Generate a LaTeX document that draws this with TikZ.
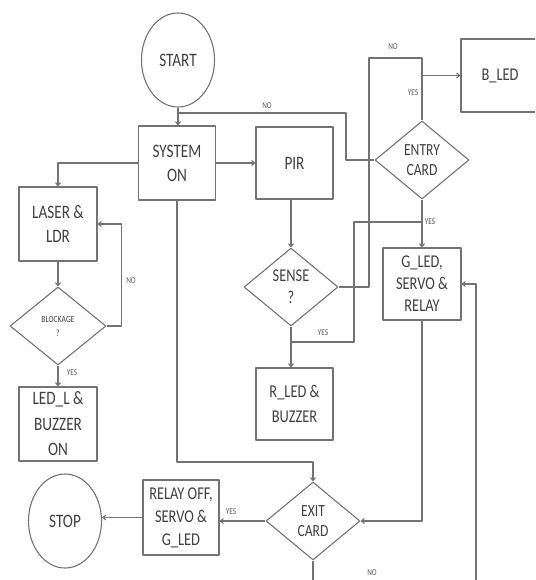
\documentclass[tikz,border=0pt]{standalone}
\usepackage{fontspec}
\setmainfont{Carlito}[FakeStretch=0.8]
\usepackage{tikz}
\usetikzlibrary{arrows.meta,shapes.geometric}

\begin{document}
\begin{tikzpicture}[x=1pt,y=-1pt,>={Straight Barb[length=3pt,width=5pt]},line join=round,
  conn/.style={draw=black!55,line width=1.1pt},
  box/.style={draw=black!55,line width=1.1pt,rectangle,inner sep=0pt,align=center,text=black!75,
    font=\fontsize{19}{24}\selectfont},
  dec/.style={draw=black!55,line width=1.1pt,diamond,inner sep=0pt,align=center,text=black!75,
    font=\fontsize{17}{20}\selectfont},
  term/.style={draw=black!55,line width=1.1pt,ellipse,inner sep=0pt,text=black!75,
    minimum width=73pt,minimum height=94pt,font=\fontsize{19}{22}\selectfont},
  lbl/.style={text=black!65,inner sep=0pt,font=\fontsize{9}{10}\selectfont}]
  \useasboundingbox (0,0) rectangle (535,580);
  \clip (0,0) rectangle (535,580);
  % terminals
  \node[term] (START) at (178,60) {START};
  \node[term] (STOP) at (65,521) {STOP};
  % process boxes
  \node[box,minimum width=77pt,minimum height=74pt] (SYS) at (177,163) {SYSTEM\\ON};
  \node[box,minimum width=77pt,minimum height=72pt] (PIR) at (294.5,163) {PIR};
  \node[box,minimum width=78pt,minimum height=74pt] (LASER) at (58,224) {LASER \&\\LDR};
  \node[box,minimum width=78pt,minimum height=74pt,font=\fontsize{19}{25.5}\selectfont] (LEDL) at (58,424) {LED\_L \&\\BUZZER\\ON};
  \node[box,minimum width=78pt,minimum height=73pt,font=\fontsize{18}{22}\selectfont] (BLED) at (500,75.5) {B\_LED};
  \node[box,minimum width=77pt,minimum height=72pt,font=\fontsize{18}{25}\selectfont] (RLED) at (294.5,404) {R\_LED \&\\BUZZER};
  \node[box,minimum width=78pt,minimum height=72pt,font=\fontsize{18}{22}\selectfont] (GLED) at (422,284) {G\_LED,\\SERVO \&\\RELAY};
  \node[box,minimum width=76pt,minimum height=75pt,font=\fontsize{18}{23}\selectfont] (RELAY) at (181,517.5) {RELAY OFF,\\SERVO \&\\G\_LED};
  % decisions
  \node[dec,minimum width=96pt,minimum height=78pt,font=\fontsize{9.5}{14}\selectfont] (BLOCK) at (58,326) {BLOCKAGE\\?};
  \node[dec,minimum width=94pt,minimum height=78pt] (ENTRY) at (422,160) {ENTRY\\CARD};
  \node[dec,minimum width=94pt,minimum height=78pt,font=\fontsize{18}{22}\selectfont] (SENSE) at (291,287) {SENSE\\?};
  \node[dec,minimum width=94pt,minimum height=78pt] (EXIT) at (313,521) {EXIT\\CARD};
  % bends
  \coordinate (J1) at (346,113);
  \coordinate (K1) at (369,287);
  \coordinate (K2) at (422,58);
  \coordinate (K3) at (291,342);
  \coordinate (K4) at (354,222);
  \coordinate (K5) at (313,462);
  \coordinate (F1) at (476,590);
  % connectors
  \draw[conn,->] (START.south) -- (START.south |- SYS.north);
  \draw[conn] (ENTRY.west) -| (J1) -- (START.south |- J1);
  \draw[conn,->] (SYS.east) -- (SYS.east -| PIR.west);
  \draw[conn,->] (SYS.west) -| (LASER.north);
  \draw[conn,->] (LASER.south) -- (BLOCK.north);
  \draw[conn,->] (BLOCK.east) -- ++(15,0) |- (LASER.east);
  \draw[conn,->] (BLOCK.south) -- (LEDL.north);
  \draw[conn,->] (PIR.south -| SENSE.north) -- (SENSE.north);
  \draw[conn,->] (SENSE.south) -- (SENSE.south |- RLED.north);
  \draw[conn] (SENSE.east) -- (K1) |- (K2) -- (ENTRY.north);
  \draw[conn,->] (ENTRY.north |- BLED.west) -- (BLED.west);
  \draw[conn] (K3) -| (K4) -- (ENTRY.south |- K4);
  \draw[conn,->] (ENTRY.south) -- (GLED.north);
  \draw[conn,->] (GLED.south) |- (EXIT.east);
  \draw[conn,->] (F1) |- (GLED.east);
  \draw[conn,->] (SYS.south) |- (K5) -- (EXIT.north);
  \draw[conn,->] (EXIT.west) -- (EXIT.west -| RELAY.east);
  \draw[conn,->] (RELAY.west) -- (RELAY.west -| STOP.east);
  \draw[conn] (EXIT.south) -- (EXIT.south |- F1);
  % labels
  \node[lbl] (NO1) at (267,106) {NO};
  \node[lbl] (NO2) at (393,47) {NO};
  \node[lbl] (YES1) at (413,93) {YES};
  \node[lbl] (YES2) at (430,222) {YES};
  \node[lbl] (YES3) at (323,333) {YES};
  \node[lbl] (NO3) at (131,281) {NO};
  \node[lbl] (YES4) at (72,373) {YES};
  \node[lbl] (YES5) at (231,512) {YES};
  \node[lbl] (NO4) at (372,573) {NO};
\end{tikzpicture}
\end{document}
